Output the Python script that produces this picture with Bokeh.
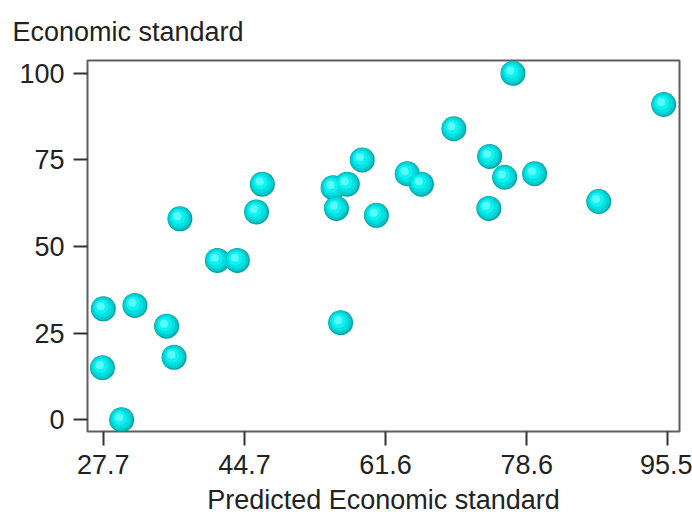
from bokeh.plotting import figure
from bokeh.models import FixedTicker, ColumnDataSource
from bokeh.embed import file_html
from bokeh.resources import INLINE

# Observed vs. predicted economic standard
predicted = [27.7, 27.6, 29.9, 31.5, 35.3, 36.2, 36.9, 41.4, 43.8, 46.1, 46.8,
             55.3, 55.7, 57.0, 56.2, 58.8, 60.5, 64.2, 65.9, 69.8, 74.1, 74.0,
             75.9, 76.9, 79.5, 87.2, 95.0]
observed = [32, 15, 0, 33, 27, 18, 58, 46, 46, 60, 68,
            67, 61, 68, 28, 75, 59, 71, 68, 84, 76, 61,
            70, 100, 71, 63, 91]

x_ticks = [27.7, 44.65, 61.6, 78.55, 95.5]
x_tick_labels = ["27.7", "44.7", "61.6", "78.6", "95.5"]
y_ticks = [0, 25, 50, 75, 100]

W, H = 692, 517
B_LEFT, B_RIGHT, B_TOP, B_BOTTOM = 87, 13, 56, 85
X0, X1 = 25.8, 96.9
Y0, Y1 = -3.4, 103.7

p = figure(width=W, height=H, output_backend="svg", toolbar_location=None,
           x_range=(X0, X1), y_range=(Y0, Y1),
           min_border_left=B_LEFT, min_border_right=B_RIGHT,
           min_border_top=B_TOP, min_border_bottom=B_BOTTOM,
           background_fill_color="white", border_fill_color="white")

FONT = "Liberation Sans"
FS = "27px"
TXT = "#222222"

# y-axis title sits above the frame, flush with the left edge of the figure
p.title.text = "Economic standard"
p.title.align = "left"
p.title.offset = -75
p.title.text_font = FONT
p.title.text_font_size = FS
p.title.text_font_style = "normal"
p.title.text_color = TXT
p.title.standoff = 28
p.title.text_line_height = 0.8

p.grid.visible = False
p.outline_line_color = "#5e5e5e"
p.outline_line_width = 2

for ax in (p.xaxis[0], p.yaxis[0]):
    ax.axis_line_color = None
    ax.major_tick_line_color = "#333333"
    ax.major_tick_line_width = 2
    ax.major_tick_in = 0
    ax.major_tick_out = 14
    ax.minor_tick_line_color = None
    ax.major_label_text_font = FONT
    ax.major_label_text_font_size = FS
    ax.major_label_text_color = TXT

p.xaxis[0].ticker = FixedTicker(ticks=x_ticks)
p.xaxis[0].major_label_overrides = {t: s for t, s in zip(x_ticks, x_tick_labels)}
p.xaxis[0].major_label_standoff = 9
p.xaxis[0].axis_label = "Predicted Economic standard"
p.xaxis[0].axis_label_text_font = FONT
p.xaxis[0].axis_label_text_font_size = FS
p.xaxis[0].axis_label_text_font_style = "normal"
p.xaxis[0].axis_label_text_color = TXT
p.xaxis[0].axis_label_standoff = 8

p.yaxis[0].ticker = FixedTicker(ticks=y_ticks)
p.yaxis[0].major_label_standoff = 9

# shaded spheres: stacked discs shifted toward the upper-left highlight
fw = W - B_LEFT - B_RIGHT
fh = H - B_TOP - B_BOTTOM
ux = (X1 - X0) / fw   # data units per pixel
uy = (Y1 - Y0) / fh

layers = [
    (25, 0.0, 0.0, "#00a4a6"),
    (23, -0.5, 0.5, "#00cacc"),
    (19, -1.0, 1.0, "#00e0e0"),
    (14, -1.8, 1.8, "#10f2f2"),
    (8, -2.6, 2.6, "#5cfbfb"),
]
for size, dx, dy, color in layers:
    src = ColumnDataSource(dict(x=[v + dx * ux for v in predicted],
                                y=[v + dy * uy for v in observed]))
    p.scatter("x", "y", source=src, marker="circle", size=size,
              fill_color=color, line_color=None)

open("out.html", "w").write(file_html(p, INLINE))
